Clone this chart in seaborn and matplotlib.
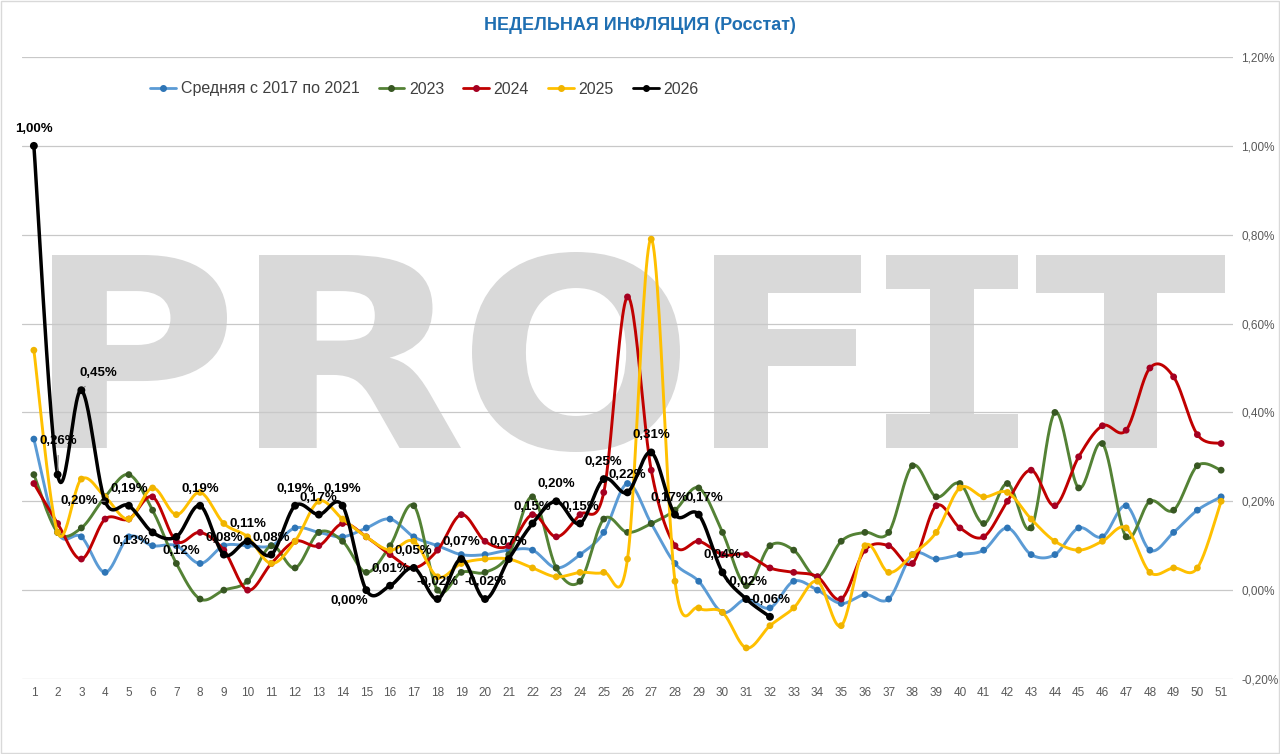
import numpy as np
import pandas as pd
import seaborn as sns
import matplotlib.pyplot as plt
from matplotlib.lines import Line2D
from matplotlib.patches import PathPatch, Rectangle
from matplotlib.textpath import TextPath
from matplotlib.font_manager import FontProperties
from matplotlib.transforms import Affine2D

# weekly CPI, % per week
weeks = list(range(1, 52))
avg_2017_2021 = [0.34, 0.13, 0.12, 0.04, 0.12, 0.10, 0.10, 0.06, 0.10, 0.10,
                 0.10, 0.14, 0.13, 0.12, 0.14, 0.16, 0.12, 0.10, 0.08, 0.08,
                 0.09, 0.09, 0.05, 0.08, 0.13, 0.24, 0.15, 0.06, 0.02, -0.05,
                 -0.02, -0.04, 0.02, 0.00, -0.03, -0.01, -0.02, 0.08, 0.07, 0.08,
                 0.09, 0.14, 0.08, 0.08, 0.14, 0.12, 0.19, 0.09, 0.13, 0.18, 0.21]
y2023 = [0.26, 0.13, 0.14, 0.21, 0.26, 0.18, 0.06, -0.02, 0.00, 0.02,
         0.10, 0.05, 0.13, 0.11, 0.04, 0.10, 0.19, 0.00, 0.04, 0.04,
         0.08, 0.21, 0.05, 0.02, 0.16, 0.13, 0.15, 0.18, 0.23, 0.13,
         0.01, 0.10, 0.09, 0.03, 0.11, 0.13, 0.13, 0.28, 0.21, 0.24,
         0.15, 0.24, 0.14, 0.40, 0.23, 0.33, 0.12, 0.20, 0.18, 0.28, 0.27]
y2024 = [0.24, 0.15, 0.07, 0.16, 0.16, 0.21, 0.11, 0.13, 0.09, 0.00,
         0.06, 0.11, 0.10, 0.15, 0.12, 0.08, 0.05, 0.09, 0.17, 0.11,
         0.10, 0.17, 0.12, 0.17, 0.22, 0.66, 0.27, 0.10, 0.11, 0.08,
         0.08, 0.05, 0.04, 0.03, -0.02, 0.09, 0.10, 0.06, 0.19, 0.14,
         0.12, 0.20, 0.27, 0.19, 0.30, 0.37, 0.36, 0.50, 0.48, 0.35, 0.33]
y2025 = [0.54, 0.13, 0.25, 0.21, 0.16, 0.23, 0.17, 0.22, 0.15, 0.12,
         0.06, 0.11, 0.20, 0.16, 0.12, 0.09, 0.11, 0.03, 0.06, 0.07,
         0.07, 0.05, 0.03, 0.04, 0.04, 0.07, 0.79, 0.02, -0.04, -0.05,
         -0.13, -0.08, -0.04, 0.02, -0.08, 0.10, 0.04, 0.08, 0.13, 0.23,
         0.21, 0.22, 0.16, 0.11, 0.09, 0.11, 0.14, 0.04, 0.05, 0.05, 0.20]
y2026 = [1.00, 0.26, 0.45, 0.20, 0.19, 0.13, 0.12, 0.19, 0.08, 0.11,
         0.08, 0.19, 0.17, 0.19, 0.00, 0.01, 0.05, -0.02, 0.07, -0.02,
         0.07, 0.15, 0.20, 0.15, 0.25, 0.22, 0.31, 0.17, 0.17, 0.04,
         -0.02, -0.06]

names = ['Средняя с 2017 по 2021', '2023', '2024', '2025', '2026']
series = [avg_2017_2021, y2023, y2024, y2025, y2026]
line_colors = ['#5b9bd5', '#548235', '#c00000', '#ffc000', '#000000']
marker_colors = ['#2e75b6', '#385723', '#a50021', '#f0b400', '#000000']
y_ticks = [-0.2, 0.0, 0.2, 0.4, 0.6, 0.8, 1.0, 1.2]

# label offsets (pixels) for the 2026 data labels, default is straight above
label_offsets = {1: (1, 34), 2: (17, 17), 3: (-26, 0), 5: (-21, -9),
                 6: (5, -14), 14: (-17, -11), 27: (-6, 17), 28: (6, 17)}
leader_idx = [1, 2, 3]


def smooth(xs, ys, n=24):
    # excel-like smoothed line: cubic bezier through the points
    pts = np.column_stack([xs, ys]).astype(float)
    P = np.vstack([pts[0], pts, pts[-1]])
    t = np.linspace(0, 1, n, endpoint=False)[:, None]
    out = []
    for i in range(len(pts) - 1):
        p0, p1, p2, p3 = P[i], P[i + 1], P[i + 2], P[i + 3]
        c1 = p1 + (p2 - p0) / 6
        c2 = p2 - (p3 - p1) / 6
        out.append((1 - t) ** 3 * p1 + 3 * (1 - t) ** 2 * t * c1
                   + 3 * (1 - t) * t ** 2 * c2 + t ** 3 * p2)
    out.append(pts[-1:])
    return np.vstack(out)


pts_rows, curve_rows = [], []
for name, vals in zip(names, series):
    wk = weeks[:len(vals)]
    for w, v in zip(wk, vals):
        pts_rows.append({'week': w, 'value': v, 'series': name})
    sm = smooth(wk, vals)
    for k, (sx, sy) in enumerate(sm):
        curve_rows.append({'x': sx, 'y': sy, 'series': name, 'k': k})
df_pts = pd.DataFrame(pts_rows)
df_curve = pd.DataFrame(curve_rows)

sns.set_theme(style='white')
plt.rcParams['font.family'] = ['Liberation Sans', 'DejaVu Sans']

W, H = 1280, 754
fig = plt.figure(figsize=(W / 100, H / 100), dpi=100)
ax = fig.add_axes([22 / W, 1 - 679 / H, (1233 - 22) / W, (679 - 57) / H])
ax.set_facecolor('none')

# PROFIT watermark
wm_letters = ['P', 'R', 'O', 'F', 'I', 'T']
wm_boxes = [(52, 227, 255, 448), (259, 461, 255, 448), (472, 680, 252, 452),
            (714, 861, 255, 448), (886, 1018, 255, 448), (1036, 1225, 255, 448)]
for ch, (x0, x1, yt, yb) in zip(wm_letters, wm_boxes):
    fam = 'DejaVu Sans Mono' if ch == 'I' else 'DejaVu Sans'
    tp = TextPath((0, 0), ch, size=100, prop=FontProperties(family=fam, weight='bold'))
    bb = tp.get_extents()
    tr = (Affine2D().translate(-bb.x0, -bb.y0)
          .scale((x1 - x0) / W / bb.width, (yb - yt) / H / bb.height)
          .translate(x0 / W, 1 - yb / H) + fig.transFigure)
    ax.add_patch(PathPatch(tp, transform=tr, facecolor='#d9d9d9',
                           edgecolor='none', zorder=0.2, clip_on=False))

palette_line = dict(zip(names, line_colors))
palette_mk = dict(zip(names, marker_colors))
for i, name in enumerate(names):
    lw = 2.5 if name == '2026' else 2.1
    sns.lineplot(data=df_curve[df_curve['series'] == name], x='x', y='y',
                 color=palette_line[name], lw=lw, sort=False, estimator=None,
                 ax=ax, zorder=2 + i, legend=False)
    sns.scatterplot(data=df_pts[df_pts['series'] == name], x='week', y='value',
                    color=palette_mk[name], s=32 if name == '2026' else 24,
                    edgecolor='none', ax=ax, zorder=2.5 + i, legend=False)

# data labels for 2026
for i, v in enumerate(y2026):
    dx, dy = label_offsets.get(i, (0, 17))
    txt = f'{v:.2f}%'.replace('.', ',')
    arrow = dict(arrowstyle='-', color='#808080', lw=0.8,
                 shrinkA=4, shrinkB=3) if i in leader_idx else None
    ax.annotate(txt, xy=(weeks[i], v), xytext=(dx, dy), textcoords='offset pixels',
                ha='center', va='center', fontsize=9.5, fontweight='bold',
                color='#000000', zorder=10, arrowprops=arrow)

ax.set_xlim(0.5, 51.5)
ax.set_ylim(-0.2, 1.2)
ax.set_yticks(y_ticks)
ax.set_yticklabels([f'{t:.2f}%'.replace('.', ',') for t in y_ticks])
ax.set_xticks(weeks)
ax.set_xticklabels([str(w) for w in weeks])
ax.yaxis.tick_right()
ax.tick_params(axis='y', length=0, pad=6, labelsize=8.5, labelcolor='#595959')
ax.tick_params(axis='x', length=0, pad=6, labelsize=8.5, labelcolor='#595959')
ax.set_axisbelow(True)
ax.grid(axis='y', color='#c8c8c8', lw=0.9, zorder=0.5)
ax.grid(axis='x', visible=False)
for s in ax.spines.values():
    s.set_visible(False)
ax.set_xlabel('')
ax.set_ylabel('')

fig.text(640 / W, 1 - 25 / H, 'НЕДЕЛЬНАЯ ИНФЛЯЦИЯ (Росстат)', ha='center',
         va='center', fontsize=13, fontweight='bold', color='#1f6fb2')

handles = [Line2D([], [], color=lc, lw=2, marker='o', markersize=4,
                  markerfacecolor=mc, markeredgecolor=mc)
           for lc, mc in zip(line_colors, marker_colors)]
fig.legend(handles, names, loc='center left', bbox_to_anchor=(136 / W, 1 - 89 / H),
           ncol=5, frameon=False, fontsize=11.5, handlelength=1.6,
           handletextpad=0.3, columnspacing=1.2, labelcolor='#404040')

fig.patches.append(Rectangle((0.0008, 0.0013), 0.9984, 0.9974, transform=fig.transFigure,
                             fill=False, edgecolor='#d9d9d9', lw=1))

fig.savefig('out.png', dpi=100, facecolor='white')
